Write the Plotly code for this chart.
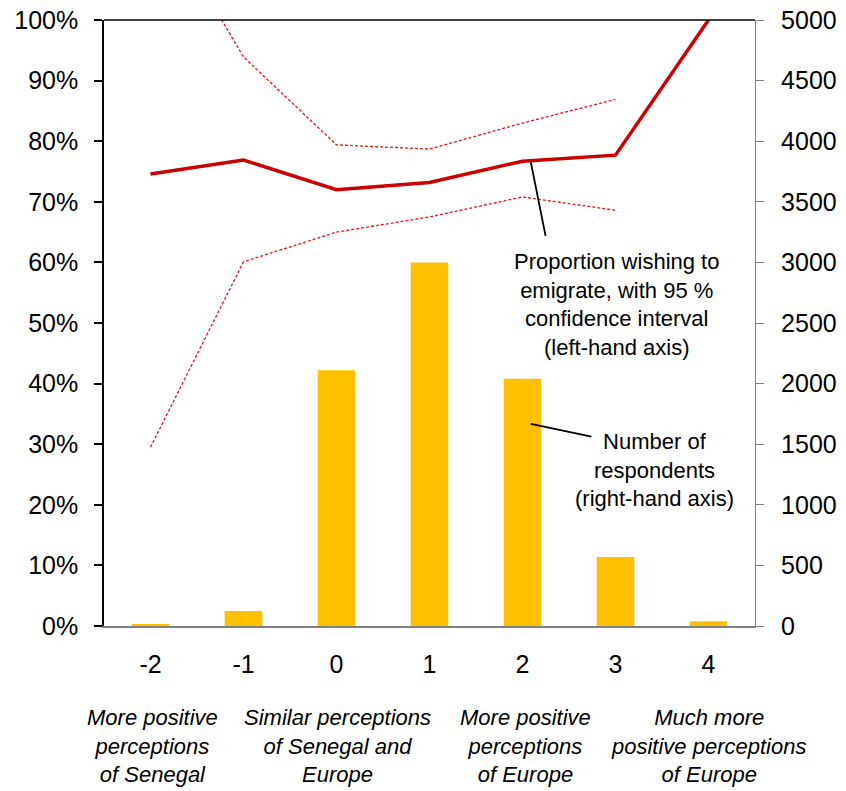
import plotly.graph_objects as go

categories = ["-2", "-1", "0", "1", "2", "3", "4"]
proportion = [0.746, 0.769, 0.720, 0.732, 0.767, 0.777, 1.00]
ci_upper = [1.20, 0.939, 0.794, 0.787, 0.830, 0.869, None]
ci_lower = [0.295, 0.601, 0.650, 0.675, 0.708, 0.686, None]
respondents = [17, 124, 2110, 3000, 2040, 570, 40]

pct_ticks = [i / 10 for i in range(11)]
pct_labels = [f"{i*10}%" for i in range(11)]
cnt_ticks = list(range(0, 5001, 500))
cnt_labels = [str(v) for v in cnt_ticks]

bottom_labels = [
    "More positive<br>perceptions<br>of Senegal",
    "Similar perceptions<br>of Senegal and<br>Europe",
    "More positive<br>perceptions<br>of Europe",
    "Much more<br>positive perceptions<br>of Europe",
]
bottom_x = [0.074, 0.358, 0.648, 0.928]

FONT = "Liberation Sans, Arial, sans-serif"

fig = go.Figure()
fig.add_trace(go.Bar(x=categories, y=respondents, marker_color="#FFC000",
                     marker_line_width=0, yaxis="y", showlegend=False))
fig.add_trace(go.Scatter(x=categories, y=ci_upper, mode="lines", yaxis="y2",
                         line=dict(color="#F01010", width=1.3, dash="3px,2px"),
                         showlegend=False))
fig.add_trace(go.Scatter(x=categories, y=ci_lower, mode="lines", yaxis="y2",
                         line=dict(color="#F01010", width=1.3, dash="3px,2px"),
                         showlegend=False))
fig.add_trace(go.Scatter(x=categories, y=proportion, mode="lines", yaxis="y2",
                         line=dict(color="#CC0000", width=3.5),
                         showlegend=False))

annotations = []
# arrow to proportion line
annotations.append(dict(x=4.09, y=0.765, xref="x", yref="y2", text="",
                        showarrow=True, arrowhead=0, arrowwidth=1.8,
                        arrowcolor="black", ax=15, ay=75))
annotations.append(dict(x=0.788, y=0.530, xref="paper", yref="paper",
                        yanchor="middle", xanchor="center",
                        text="Proportion wishing to<br>emigrate, with 95 %<br>confidence interval<br>(left-hand axis)",
                        showarrow=False, font=dict(family=FONT, size=22, color="black"),
                        align="center"))
# arrow to bars
annotations.append(dict(x=4.09, y=1667, xref="x", yref="y", text="",
                        showarrow=True, arrowhead=0, arrowwidth=1.8,
                        arrowcolor="black", ax=62, ay=13))
annotations.append(dict(x=0.845, y=0.257, xref="paper", yref="paper",
                        yanchor="middle", xanchor="center",
                        text="Number of<br>respondents<br>(right-hand axis)",
                        showarrow=False, font=dict(family=FONT, size=22, color="black"),
                        align="center"))
for txt, xp in zip(bottom_labels, bottom_x):
    annotations.append(dict(x=xp, y=-0.198, xref="paper", yref="paper",
                            yanchor="middle", xanchor="center",
                            text=f"<i>{txt}</i>", showarrow=False, align="center",
                            font=dict(family=FONT, size=22, color="black")))

fig.update_layout(
    template="none",
    width=838, height=783,
    margin=dict(l=96, r=91, t=12, b=165, autoexpand=False),
    paper_bgcolor="white", plot_bgcolor="white",
    font=dict(family=FONT, size=25, color="black"),
    bargap=0.596,
    xaxis=dict(type="category", categoryorder="array", categoryarray=categories,
               showgrid=False, showline=True, linecolor="#808080", linewidth=1.5,
               ticks="", ticklabelstandoff=15, tickfont=dict(size=25),
               range=[-0.5, 6.5], zeroline=False, automargin=False,
               ticklabeloverflow="allow"),
    yaxis=dict(side="right", range=[0, 5000], tickvals=cnt_ticks, ticktext=cnt_labels,
               showgrid=False, showline=True, linecolor="#808080", linewidth=1.2,
               ticks="outside", ticklen=8, tickcolor="#808080", tickwidth=1.2,
               ticklabelstandoff=12, zeroline=False, tickfont=dict(size=25),
               automargin=False, ticklabeloverflow="allow"),
    yaxis2=dict(side="left", overlaying="y", range=[0, 1], tickvals=pct_ticks,
                ticktext=pct_labels, showgrid=False, showline=True, linecolor="black",
                linewidth=1.5, ticks="outside", ticklen=8, tickcolor="black",
                tickwidth=1.5, ticklabelstandoff=11, zeroline=False,
                tickfont=dict(size=25), automargin=False, ticklabeloverflow="allow"),
    annotations=annotations,
    shapes=[dict(type="line", xref="paper", yref="paper", x0=0, x1=1, y0=1, y1=1,
                 line=dict(color="black", width=1.5))],
)

fig.write_html("out.html")
